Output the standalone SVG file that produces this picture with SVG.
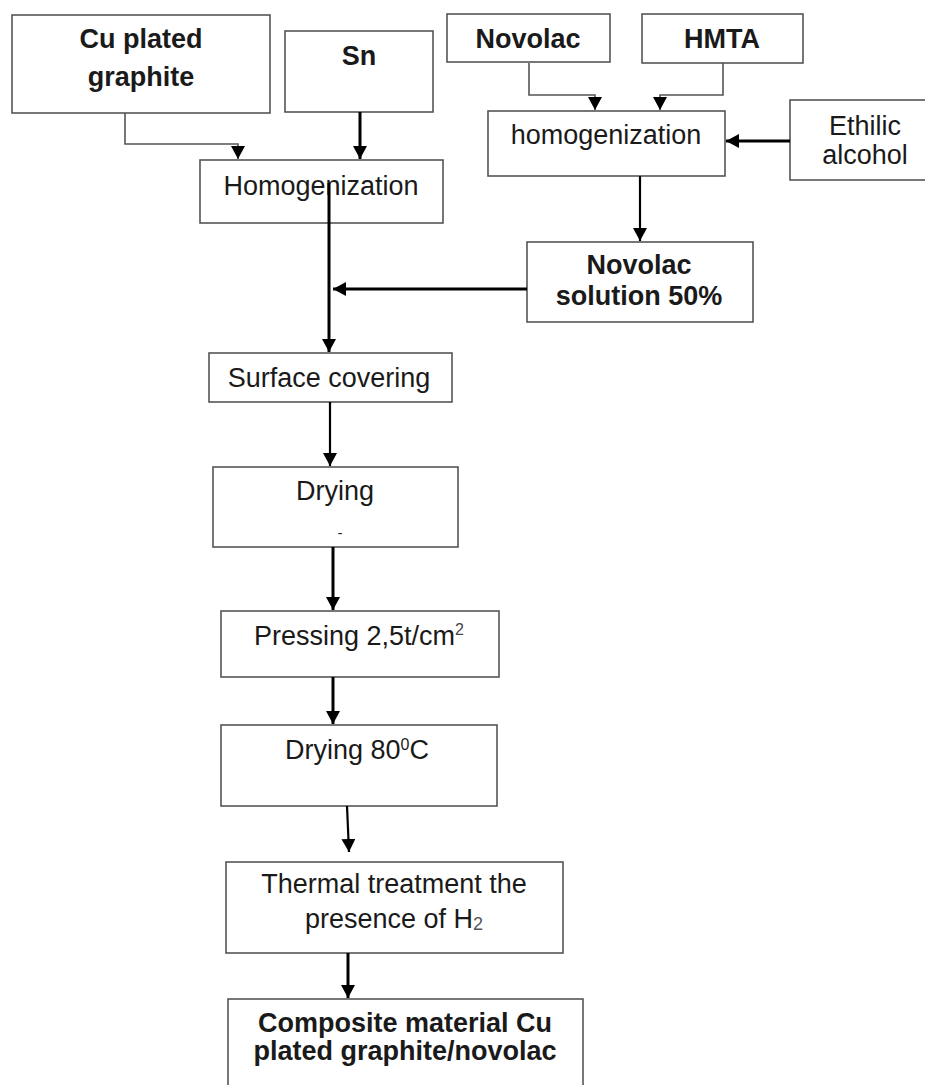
<svg xmlns="http://www.w3.org/2000/svg" width="925" height="1085" viewBox="0 0 925 1085">
<style>
.box{fill:#fff;stroke:#555;stroke-width:1.6}
.t{font-family:"Liberation Sans",Arial,sans-serif;font-size:27px;fill:#1a1a1a;text-anchor:middle}
.b{font-weight:bold}
.thin{fill:none;stroke:#555;stroke-width:1.6}
.thick{fill:none;stroke:#000;stroke-width:3}
.med{fill:none;stroke:#000;stroke-width:2.2}
</style>
<defs>
<marker id="ah" markerUnits="userSpaceOnUse" markerWidth="14" markerHeight="14" refX="13" refY="7" orient="auto">
<path d="M0,0 L13,7 L0,14 z" fill="#000"/>
</marker>
</defs>
<rect width="925" height="1085" fill="#fff"/>
<g id="cu"><rect class="box" x="12" y="15" width="258" height="98"/><text class="t b" x="141" y="48">Cu plated</text><text class="t b" x="141" y="86">graphite</text></g>
<g id="sn"><rect class="box" x="285" y="31" width="148" height="81"/><text class="t b" x="359" y="65">Sn</text></g>
<g id="homog1"><rect class="box" x="200" y="160" width="243" height="63"/><text class="t" x="321" y="195">Homogenization</text></g>
<g id="novolac"><rect class="box" x="447" y="14" width="163" height="48"/><text class="t b" x="528" y="48">Novolac</text></g>
<g id="hmta"><rect class="box" x="642" y="14" width="161" height="49"/><text class="t b" x="722" y="48">HMTA</text></g>
<g id="homog2"><rect class="box" x="488" y="111" width="237" height="65"/><text class="t" x="606" y="144">homogenization</text></g>
<g id="ethilic"><rect class="box" x="790" y="100" width="150" height="80"/><text class="t" x="865" y="135">Ethilic</text><text class="t" x="865" y="164">alcohol</text></g>
<g id="novsol"><rect class="box" x="527" y="242" width="226" height="80"/><text class="t b" x="639" y="274">Novolac</text><text class="t b" x="639" y="305">solution 50%</text></g>
<g id="surface"><rect class="box" x="209" y="353" width="243" height="49"/><text class="t" x="329" y="387">Surface covering</text></g>
<g id="drying"><rect class="box" x="213" y="467" width="245" height="80"/><text class="t" x="335" y="500">Drying</text><text class="t" x="340" y="538" style="font-size:14px">-</text></g>
<g id="pressing"><rect class="box" x="221" y="611" width="278" height="66"/><text class="t" x="359" y="645">Pressing 2,5t/cm<tspan font-size="16" dy="-10" fill="#444">2</tspan></text></g>
<g id="drying80"><rect class="box" x="221" y="725" width="276" height="81"/><text class="t" x="357" y="759">Drying 80<tspan font-size="16" dy="-9">0</tspan><tspan dy="9">C</tspan></text></g>
<g id="thermal"><rect class="box" x="226" y="862" width="337" height="91"/><text class="t" x="394" y="893">Thermal treatment the</text><text class="t" x="394" y="928">presence of H<tspan font-size="18" dy="2" fill="#555">2</tspan></text></g>
<g id="composite"><rect class="box" x="228" y="999" width="355" height="110"/><text class="t b" x="405" y="1032">Composite material Cu</text><text class="t b" x="405" y="1060">plated graphite/novolac</text></g>
<g id="connectors">
<path class="thin" d="M125,113 V144 H238 V159" marker-end="url(#ah)"/>
<path class="thick" d="M360,112 V159" marker-end="url(#ah)"/>
<path class="thin" d="M529,63 V95 H595 V110" marker-end="url(#ah)"/>
<path class="thin" d="M723,63 V95 H660 V110" marker-end="url(#ah)"/>
<path class="thick" d="M790,141 H726" marker-end="url(#ah)"/>
<path class="med" d="M640,176 V241" marker-end="url(#ah)"/>
<path class="thick" d="M527,289 H333" marker-end="url(#ah)"/>
<path class="thick" d="M329,183 V352" marker-end="url(#ah)"/>
<path class="med" d="M330,402 V466" marker-end="url(#ah)"/>
<path class="thick" d="M333,547 V610" marker-end="url(#ah)"/>
<path class="thick" d="M333,677 V724" marker-end="url(#ah)"/>
<path class="med" d="M347,806 L349,852" marker-end="url(#ah)"/>
<path class="thick" d="M348,953 V998" marker-end="url(#ah)"/>
</g>
</svg>
